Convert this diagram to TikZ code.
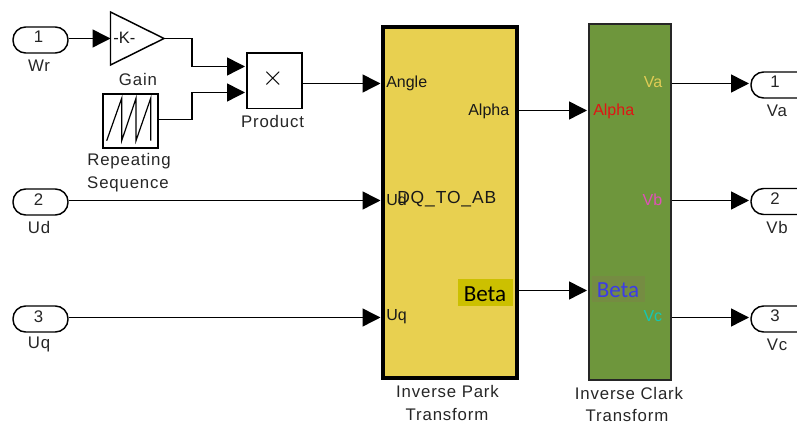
\documentclass[tikz,border=0pt]{standalone}
\usepackage{fontspec}
\setmainfont{Liberation Sans}
\newfontfamily\lblfont[LetterSpace=5]{Liberation Sans}
\newfontfamily\calfont{Carlito}
\usetikzlibrary{arrows.meta,calc}
\definecolor{parkfill}{HTML}{E8D050}
\definecolor{clarkfill}{HTML}{6E963C}
\definecolor{betabgY}{HTML}{CCC000}
\definecolor{betabgG}{HTML}{758C42}
\definecolor{vaC}{HTML}{E0CC55}
\definecolor{alphaC}{HTML}{E01414}
\definecolor{vbC}{HTML}{E050B8}
\definecolor{vcC}{HTML}{14C8B4}
\definecolor{betaC}{HTML}{3C3CE6}
\tikzset{
  x=0.75pt,y=-0.75pt,
  wire/.style={line width=1.1pt,-{Triangle[length=13.5pt,width=13.5pt]}},
  port/.style={draw,line width=1.1pt,rounded corners=9.5pt,minimum width=41.25pt,minimum height=19.5pt,inner sep=0pt,fill=white},
  blockbox/.style={draw,line width=1.1pt,inner sep=0pt,fill=white},
  lbl/.style={font=\lblfont\fontsize{12.6}{14}\selectfont,inner sep=0pt,text=black!85},
  plbl/.style={font=\fontsize{12}{14}\selectfont,inner sep=0pt,text=black!90},
  betalbl/.style={font=\calfont\fontsize{17.3}{20}\selectfont,inner sep=0pt},
}
\begin{document}
\begin{tikzpicture}
\useasboundingbox (0,0) rectangle (797,423);
% inports
\node[port] (in1) at (40.5,40) {};
\node[port] (in2) at (40.5,202) {};
\node[port] (in3) at (40.5,319) {};
\node[lbl] (n1) at (38.5,37) {1};
\node[lbl] (n2) at (38.5,199.5) {2};
\node[lbl] (n3) at (38.5,316.5) {3};
\node[lbl] (wr) at (39,65.5) {Wr};
\node[lbl] (ud) at (39,227.5) {Ud};
\node[lbl] (uq) at (39,344.5) {Uq};
% gain
\coordinate (gi) at (110.5,38.5);
\coordinate (ga) at (164,38.5);
\draw[line width=1.1pt,line join=miter] (110.5,12) -- (110.5,65) -- (ga) -- cycle;
\node[plbl,anchor=west,font=\fontsize{12.4}{14}\selectfont] (k) at (113,38) {-K-};
\node[lbl] (gainl) at (138,80) {Gain};
% repeating sequence
\node[blockbox,minimum width=41.25pt,minimum height=40.5pt] (rep) at (130.5,121) {};
\draw[line width=0.9pt] (106.7,140.7) -- (121.7,98.3) -- (121.7,140.7) -- (136,98.3) -- (136,140.7) -- (150.7,98.3) -- (150.7,140.7);
\node[lbl] (rep1) at (129,161) {Repeating};
\node[lbl] (rep2) at (128,184.5) {Sequence};
% product
\node[blockbox,minimum width=41pt,minimum height=41.5pt] (prod) at (274.5,80.7) {};
\node[font=\fontsize{21}{21}\selectfont,inner sep=0pt] (x) at (273,79) {$\times$};
\node[lbl] (prodl) at (272.5,122) {Product};
% transforms
\node[draw,line width=3pt,fill=parkfill,minimum width=100pt,minimum height=263pt,inner sep=0pt] (park) at (450,202.5) {};
\node[draw=black!85,line width=1.3pt,fill=clarkfill,minimum width=61pt,minimum height=267pt,inner sep=0pt] (clark) at (630,202) {};
\node[fill=betabgY,minimum width=41pt,minimum height=20pt,inner sep=0pt] (bby) at (485.5,292.5) {};
\node[fill=betabgG,minimum width=40pt,minimum height=19.5pt,inner sep=0pt] (bbg) at (618.5,288.7) {};
\node[plbl,anchor=west] (angle) at (386,83) {Angle};
\node[plbl,anchor=west] (udp) at (386,200) {Ud};
\node[plbl,anchor=west,font=\lblfont\fontsize{13.1}{14}\selectfont] (dq) at (397,199.5) {DQ\_TO\_AB};
\node[plbl,anchor=west] (uqp) at (386,317) {Uq};
\node[plbl,anchor=east] (alpha) at (509.5,111) {Alpha};
\node[betalbl] (betay) at (485,294) {Beta};
\node[plbl,anchor=west,text=alphaC] (alphag) at (593,111) {Alpha};
\node[betalbl,text=betaC] (betag) at (618,290) {Beta};
\node[plbl,anchor=east,text=vaC] (va) at (662.5,82.5) {Va};
\node[plbl,anchor=east,text=vbC] (vb) at (662.5,200) {Vb};
\node[plbl,anchor=east,text=vcC] (vc) at (662.5,316.5) {Vc};
\node[lbl] (parkl1) at (447.5,391) {Inverse Park};
\node[lbl] (parkl2) at (447,414.5) {Transform};
\node[lbl] (clarkl1) at (629,393) {Inverse Clark};
\node[lbl] (clarkl2) at (627,416) {Transform};
% outports (run off the right edge)
\coordinate (o1) at (751,85);
\coordinate (o2) at (751,201.5);
\coordinate (o3) at (751,319);
\foreach \c in {o1,o2,o3}{
  \draw[line width=1.1pt,rounded corners=9.5pt] ($(\c)+(50,-13)$) -- ($(\c)+(0,-13)$) -- ($(\c)+(0,13)$) -- ($(\c)+(50,13)$);
}
\node[lbl] (m1) at (775,82) {1};
\node[lbl] (m2) at (775,199) {2};
\node[lbl] (m3) at (775,316) {3};
\node[lbl] (val) at (777,110.5) {Va};
\node[lbl] (vbl) at (777,227.5) {Vb};
\node[lbl] (vcl) at (777,344.5) {Vc};
% connectors
\coordinate (pa) at (245,66.5);
\coordinate (pb) at (245,92.5);
\coordinate (ang) at (380.5,83.5);
\coordinate (udi) at (380.5,200.5);
\coordinate (uqi) at (380.5,317.5);
\coordinate (ai) at (587,110.5);
\coordinate (bi) at (587,290.5);
\coordinate (vat) at (749,83.5);
\coordinate (vbt) at (749,200.5);
\coordinate (vct) at (749,317.5);
\coordinate (ro) at (158,119.5);
\draw[wire] (in1.east |- gi) -- (gi);
\draw[wire] (ga) -| (192,66.5) -- (pa);
\draw[wire] (rep.east |- ro) -| (192,92.5) -- (pb);
\draw[wire] (prod.east |- ang) -- (ang);
\draw[wire] (in2.east |- udi) -- (udi);
\draw[wire] (in3.east |- uqi) -- (uqi);
\draw[wire] (park.east |- ai) -- (ai);
\draw[wire] (park.east |- bi) -- (bi);
\draw[wire] (clark.east |- vat) -- (vat);
\draw[wire] (clark.east |- vbt) -- (vbt);
\draw[wire] (clark.east |- vct) -- (vct);
\end{tikzpicture}
\end{document}
